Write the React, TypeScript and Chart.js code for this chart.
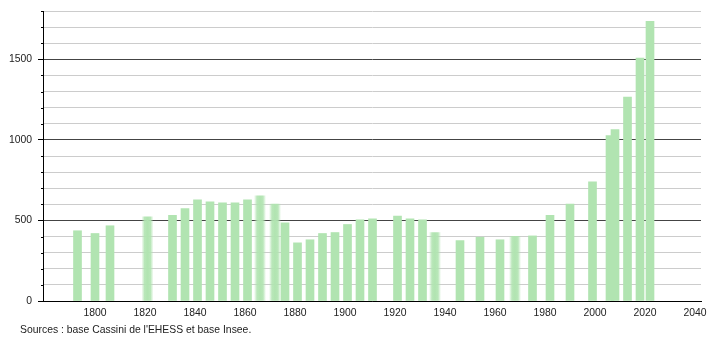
import React, { useEffect, useRef } from "react";
import { Chart, registerables } from "chart.js";

Chart.register(...registerables);

// Census years and population
const years = [1793, 1800, 1806, 1821, 1831, 1836, 1841, 1846, 1851, 1856, 1861, 1866, 1872, 1876, 1881, 1886, 1891, 1896, 1901, 1906, 1911, 1921, 1926, 1931, 1936, 1946, 1954, 1962, 1968, 1975, 1982, 1990, 1999, 2006, 2008, 2013, 2018, 2022];
const population = [436, 419, 467, 523, 531, 573, 628, 616, 610, 610, 628, 653, 602, 485, 361, 380, 419, 425, 475, 504, 510, 527, 510, 504, 425, 375, 396, 380, 402, 404, 531, 602, 740, 1027, 1064, 1265, 1508, 1736];
// Years drawn with a soft (blurred) look in the reference
const softYears = [1821, 1866, 1872, 1936, 1968];

const xTickValues = [1800, 1820, 1840, 1860, 1880, 1900, 1920, 1940, 1960, 1980, 2000, 2020, 2040];
const yTickValues = [0, 100, 200, 300, 400, 500, 600, 700, 800, 900, 1000, 1100, 1200, 1300, 1400, 1500, 1600, 1700, 1800];
const sourceText = "Sources : base Cassini de l'EHESS et base Insee.";

const GREEN = "rgb(177,228,177)";
const FONT = "Liberation Sans, Arial, sans-serif";
const FONT_SIZE = 10.4;

export default function App() {
  const ref = useRef<HTMLCanvasElement | null>(null);

  useEffect(() => {
    document.body.style.margin = "0";
    const canvas = ref.current;
    if (!canvas) return;

    const solid = years
      .map((y, i) => ({ x: y, y: population[i] }))
      .filter((p) => !softYears.includes(p.x));
    const soft = years
      .map((y, i) => ({ x: y, y: population[i] }))
      .filter((p) => softYears.includes(p.x));

    const softColor = (c: any) => {
      const chart = c.chart;
      const xs = chart.scales && chart.scales.x;
      if (c.type !== "data" || !xs || !c.raw) return GREEN;
      const px = xs.getPixelForValue(c.raw.x);
      if (!Number.isFinite(px)) return GREEN;
      const g = chart.ctx.createLinearGradient(px - 6, 0, px + 6, 0);
      g.addColorStop(0, "rgba(177,228,177,0)");
      g.addColorStop(0.25, "rgba(177,228,177,0.9)");
      g.addColorStop(0.5, "rgba(177,228,177,1)");
      g.addColorStop(0.75, "rgba(177,228,177,0.9)");
      g.addColorStop(1, "rgba(177,228,177,0)");
      return g;
    };

    const extras = {
      id: "extras",
      afterDraw(chart: any) {
        const ctx = chart.ctx;
        const ys = chart.scales.y;
        const left = chart.chartArea.left;
        ctx.save();
        ctx.strokeStyle = "#000";
        ctx.lineWidth = 1;
        for (const v of yTickValues) {
          if (v % 500 === 0) continue;
          const py = Math.round(ys.getPixelForValue(v)) + 0.5;
          ctx.beginPath();
          ctx.moveTo(left - 2, py);
          ctx.lineTo(left, py);
          ctx.stroke();
        }
        ctx.fillStyle = "#222";
        ctx.font = `${FONT_SIZE}px ${FONT}`;
        ctx.textBaseline = "alphabetic";
        ctx.textAlign = "left";
        ctx.fillText(sourceText, 20, 333);
        ctx.restore();
      },
    };

    const chart = new Chart(canvas, {
      type: "bar",
      data: {
        datasets: [
          { data: solid, backgroundColor: GREEN, barThickness: 8, grouped: false } as any,
          { data: soft, backgroundColor: softColor, barThickness: 12, grouped: false } as any,
        ],
      },
      options: {
        responsive: false,
        animation: false,
        layout: { padding: { top: 11, right: 9, left: 0, bottom: 0 } },
        plugins: { legend: { display: false }, tooltip: { enabled: false } },
        scales: {
          x: {
            type: "linear",
            min: 1779.2,
            max: 2042.4,
            offset: false,
            grid: { display: false, drawTicks: false },
            border: { color: "#000", width: 1 },
            ticks: {
              autoSkip: false,
              maxRotation: 0,
              padding: 6,
              color: "#222",
              font: { family: FONT, size: FONT_SIZE },
              callback: (v: any) => String(v),
            },
            afterBuildTicks: (s: any) => {
              s.ticks = xTickValues.map((v) => ({ value: v }));
            },
            afterFit: (s: any) => {
              s.height = 39;
              s.paddingLeft = 0;
              s.paddingRight = 0;
            },
          },
          y: {
            min: 0,
            max: 1800,
            grid: {
              color: (c: any) => (c.tick && c.tick.value % 500 === 0 ? "#444" : "#cccccc"),
              tickColor: (c: any) => (c.tick && c.tick.value % 500 === 0 ? "#000" : "rgba(0,0,0,0)"),
              tickLength: 5,
            },
            border: { color: "#000", width: 1 },
            ticks: {
              autoSkip: false,
              padding: 6,
              color: "#222",
              font: { family: FONT, size: FONT_SIZE },
              callback: (v: any) => (v % 500 === 0 ? String(v) : ""),
            },
            afterBuildTicks: (s: any) => {
              s.ticks = yTickValues.map((v) => ({ value: v }));
            },
            afterFit: (s: any) => {
              s.width = 43;
              s.paddingTop = 0;
              s.paddingBottom = 0;
            },
          },
        },
      },
      plugins: [extras],
    });

    return () => chart.destroy();
  }, []);

  return <canvas ref={ref} width={710} height={340} style={{ display: "block" }} />;
}
